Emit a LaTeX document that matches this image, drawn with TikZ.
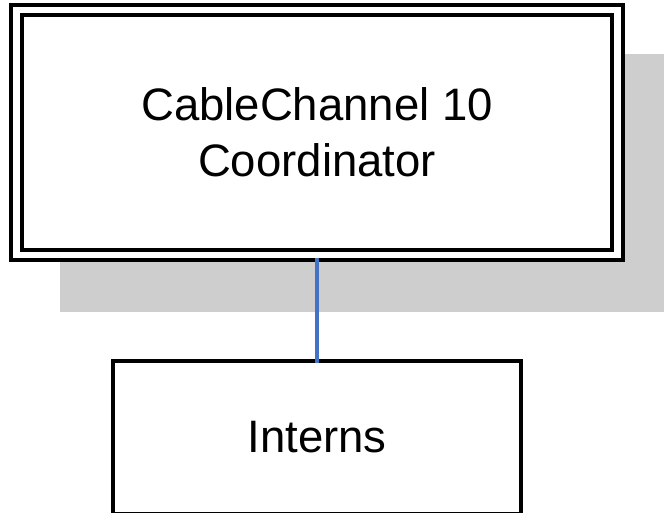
\documentclass[tikz,border=0pt]{standalone}
\usepackage{fontspec}
\setmainfont{Liberation Sans}
\definecolor{shadowgray}{RGB}{206,206,206}
\definecolor{linkblue}{RGB}{68,114,196}
\tikzset{
  orgbox/.style={draw=black, fill=white, line width=4pt, outer sep=0pt,
    inner sep=0pt, align=center, font=\fontsize{45.5}{55.7}\selectfont},
  headbox/.style={orgbox, double=white, double distance=6.5pt},
  link/.style={draw=linkblue, line width=4pt}
}
\begin{document}
\begin{tikzpicture}[x=1pt,y=-1pt]
  \useasboundingbox (0,0) rectangle (664,513);
  \clip (0,0) rectangle (664,513);
  % grey backdrop behind the head box
  \fill[shadowgray] (60,54) rectangle (670,312);
  % boxes
  \node[headbox, minimum width=601pt, minimum height=245pt] (coord) at (317,132.5)
    {CableChannel 10\\Coordinator};
  \node[orgbox, minimum width=408pt, minimum height=153pt] (interns) at (317,437.5)
    {\raisebox{2pt}{Interns}};
  % reporting line
  \draw[link, shorten <=3pt, shorten >=-1.5pt] (coord.south) -- (interns.north);
\end{tikzpicture}
\end{document}
